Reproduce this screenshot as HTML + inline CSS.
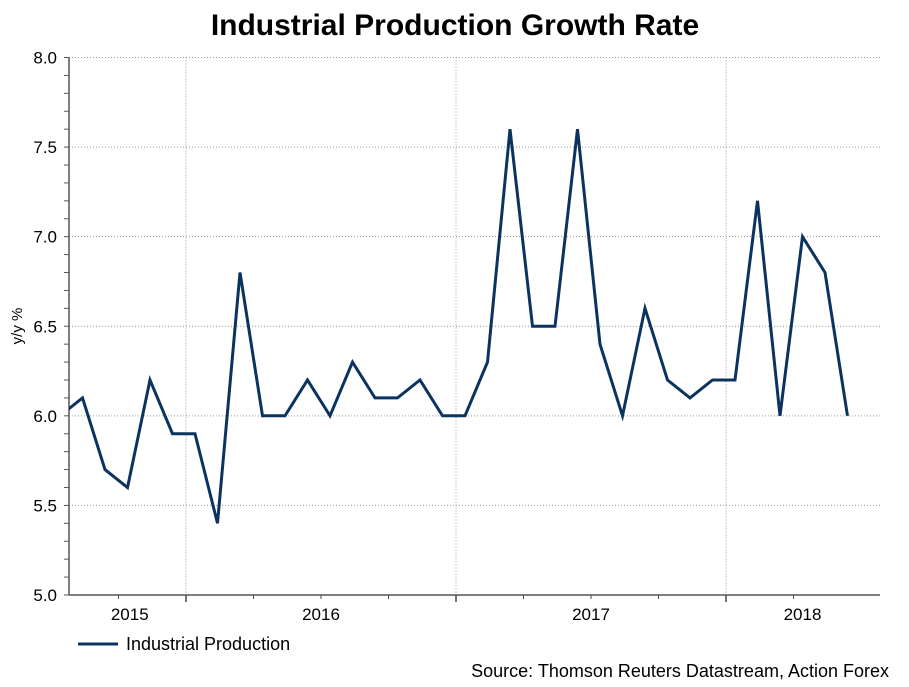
<!DOCTYPE html>
<html><head><meta charset="utf-8"><style>
body{margin:0;background:#fff;width:909px;height:682px;overflow:hidden;font-family:"Liberation Sans",Arial,sans-serif}
</style></head><body>
<svg width="909" height="682" xmlns="http://www.w3.org/2000/svg">
<text x="455" y="35" text-anchor="middle" font-size="30" font-weight="bold" fill="#000">Industrial Production Growth Rate</text>
<g id="grid"></g>
<g id="axes"></g>
<defs><clipPath id="clip"><rect x="69" y="50" width="812" height="550"/></clipPath></defs>
<path id="line" fill="none" stroke="#0c3360" stroke-width="3" stroke-linejoin="miter" clip-path="url(#clip)"/>
<text x="22" y="326" font-size="15" transform="rotate(-90 22 326)" text-anchor="middle">y/y %</text>
<g>
<line x1="78" y1="644" x2="118" y2="644" stroke="#0c3360" stroke-width="3"/>
<text x="126" y="650" font-size="18">Industrial Production</text>
</g>
<text x="889" y="677" font-size="18" text-anchor="end">Source: Thomson Reuters Datastream, Action Forex</text>
</svg>
<script>
const months = [6,7,8,9,10,11,12,13,14,15,16,17,18,19,20,21,22,23,24,25,26,27,28,29,30,31,32,33,34,35,36,37,38,39,40,41];
const values = [6.0,6.1,5.7,5.6,6.2,5.9,5.9,5.4,6.8,6.0,6.0,6.2,6.0,6.3,6.1,6.1,6.2,6.0,6.0,6.3,7.6,6.5,6.5,7.6,6.4,6.0,6.6,6.2,6.1,6.2,6.2,7.2,6.0,7.0,6.8,6.0];
const yTicks = ["5.0","5.5","6.0","6.5","7.0","7.5","8.0"];
const years = ["2015","2016","2017","2018"];
const yearLabelMonth = [9.5,18,30,39.4];
const NS="http://www.w3.org/2000/svg";
const X0=69,X1=880,Y0=595,Y1=57.5;
function xs(m){return -84+m*22.5;}
function ys(v){return Y0-(v-5)/3*(Y0-Y1);}
function mk(tag,attrs,parent){const e=document.createElementNS(NS,tag);for(const k in attrs)e.setAttribute(k,attrs[k]);parent.appendChild(e);return e;}
const grid=document.getElementById('grid'),axes=document.getElementById('axes');
yTicks.forEach(t=>{const y=ys(+t);
 if(+t>5){const l=mk('line',{x1:X0,x2:X1,y1:y,y2:y,stroke:'#9a9a9a','stroke-width':1,'stroke-dasharray':'1 2'},grid);
 
 }
 const tx=mk('text',{x:57,y:y+6,'text-anchor':'end','font-size':17},axes);tx.textContent=t;
 
 
});
for(let v=5;v<=8.001;v+=0.1){const y=ys(v);mk('line',{x1:64,x2:X0,y1:y,y2:y,stroke:'#555','stroke-width':1},axes);}
[12,24,36].forEach(m=>{const x=xs(m);
 const l=mk('line',{x1:x,x2:x,y1:Y1,y2:Y0,stroke:'#9a9a9a','stroke-width':1,'stroke-dasharray':'1 2'},grid);
 
 
 mk('line',{x1:x,x2:x,y1:Y0,y2:Y0+7,stroke:'#444','stroke-width':1.5},axes);});
for(let m=9;m<=39;m+=3){if(m%12)mk('line',{x1:xs(m),x2:xs(m),y1:Y0,y2:Y0+4,stroke:'#444','stroke-width':1},axes);}
mk('line',{x1:X0,x2:X0,y1:Y1,y2:Y0,stroke:'#555','stroke-width':1.5},axes);
mk('line',{x1:X0,x2:X1,y1:Y0,y2:Y0,stroke:'#555','stroke-width':1.5},axes);
years.forEach((yr,i)=>{const t=mk('text',{x:xs(yearLabelMonth[i]),y:620,'text-anchor':'middle','font-size':17},axes);t.textContent=yr;
 
 });
document.getElementById('line').setAttribute('d',values.map((v,i)=>(i?'L':'M')+xs(months[i]+0.4).toFixed(1)+','+ys(v).toFixed(1)).join(''));
</script>
</body></html>
